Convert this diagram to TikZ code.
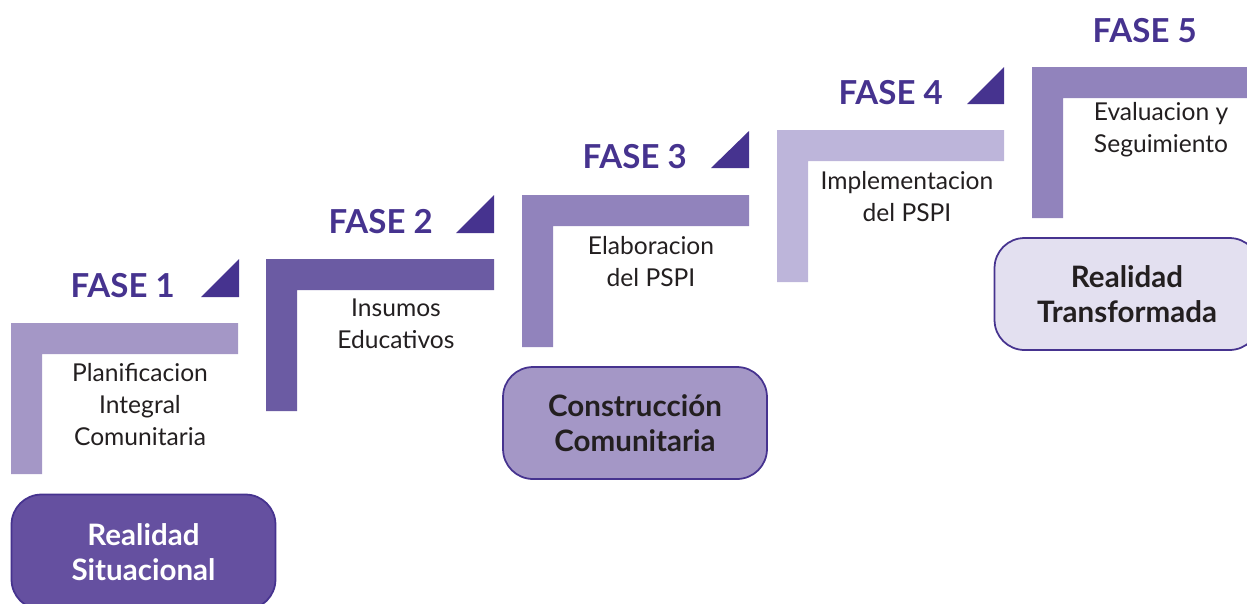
\documentclass[tikz,border=0pt]{standalone}
\usepackage{fontspec}
\setmainfont{Lato}
\usepackage{tikz}
\usetikzlibrary{positioning}
\definecolor{faseInk}{RGB}{70,51,143}
\definecolor{textInk}{RGB}{35,31,32}
\definecolor{stepA}{RGB}{164,151,198}
\definecolor{stepB}{RGB}{107,91,163}
\definecolor{stepC}{RGB}{145,131,188}
\definecolor{stepD}{RGB}{189,181,218}
\definecolor{boxA}{RGB}{101,80,160}
\definecolor{boxB}{RGB}{164,151,198}
\definecolor{boxC}{RGB}{227,224,240}
\tikzstyle{Fase_Label} = [inner sep=0pt,
                          anchor=base east,
                          text=faseInk,
                          font=\bfseries\fontsize{18.8}{20}\selectfont]
\tikzstyle{Fase_Tip} = [fill=faseInk]
\tikzstyle{Step_Text} = [inner sep=0pt,
                         align=center,
                         text=textInk,
                         font=\fontsize{14}{18.2}\selectfont]
\tikzstyle{Reality} = [rectangle,
                       rounded corners=0.6cm,
                       minimum width=5.28cm,
                       minimum height=2.24cm,
                       align=center,
                       draw=faseInk,
                       line width=1pt,
                       text=textInk,
                       font=\bfseries\fontsize{16.8}{20}\selectfont]

\begin{document}
\begin{tikzpicture}[x=0.02cm, y=-0.02cm]
        \useasboundingbox (0,0) rectangle (1247,603);

        \fill[stepA] (11,323) -- (238,323) -- (238,354) -- (42,354) -- (42,474) -- (11,474) -- cycle;
        \fill[stepB] (266,259) -- (494,259) -- (494,290) -- (297,290) -- (297,411) -- (266,411) -- cycle;
        \fill[stepC] (522,195) -- (749,195) -- (749,226) -- (553,226) -- (553,347) -- (522,347) -- cycle;
        \fill[stepD] (777,130) -- (1004,130) -- (1004,161) -- (808,161) -- (808,282) -- (777,282) -- cycle;
        \fill[stepC] (1032,67) -- (1262,67) -- (1262,98) -- (1063,98) -- (1063,218) -- (1032,218) -- cycle;

        \fill[Fase_Tip] (239,259) -- (239,297) -- (201,297) -- cycle;
        \fill[Fase_Tip] (494,195) -- (494,233) -- (456,233) -- cycle;
        \fill[Fase_Tip] (749,131) -- (749,168) -- (711,168) -- cycle;
        \fill[Fase_Tip] (1004,67) -- (1004,104) -- (967,104) -- cycle;

        \coordinate (T1) at (201,297);
        \coordinate (T2) at (456,233);
        \coordinate (T3) at (711,168);
        \coordinate (T4) at (967,104);
        \coordinate (T5) at (1223,42);

        \node (F1) [Fase_Label, left=0.52cm of T1, anchor=base east] {FASE 1};
        \node (F2) [Fase_Label, left=0.46cm of T2, anchor=base east] {FASE 2};
        \node (F3) [Fase_Label, left=0.48cm of T3, anchor=base east] {FASE 3};
        \node (F4) [Fase_Label, left=0.48cm of T4, anchor=base east] {FASE 4};
        \node (F5) [Fase_Label, left=0.52cm of T5, anchor=base east] {FASE 5};

        \node (S1) [Step_Text] at (140,405) {Planificacion\\Integral\\Comunitaria};
        \node (S2) [Step_Text] at (396,324) {Insumos\\Educativos};
        \node (S3) [Step_Text] at (651,262) {Elaboracion\\del PSPI};
        \node (S4) [Step_Text] at (907,197) {Implementacion\\del PSPI};
        \node (S5) [Step_Text] at (1161,130) {Evaluacion y\\Seguimiento};

        \node (R1) [Reality, fill=boxA, text=white, minimum height=2.3cm] at (143.5,552) {Realidad\\Situacional};
        \node (R2) [Reality, fill=boxB] at (635,423) {Construcción\\Comunitaria};
        \node (R3) [Reality, fill=boxC, minimum width=5.3cm] at (1127,294) {Realidad\\Transformada};
    \end{tikzpicture}
\end{document}
